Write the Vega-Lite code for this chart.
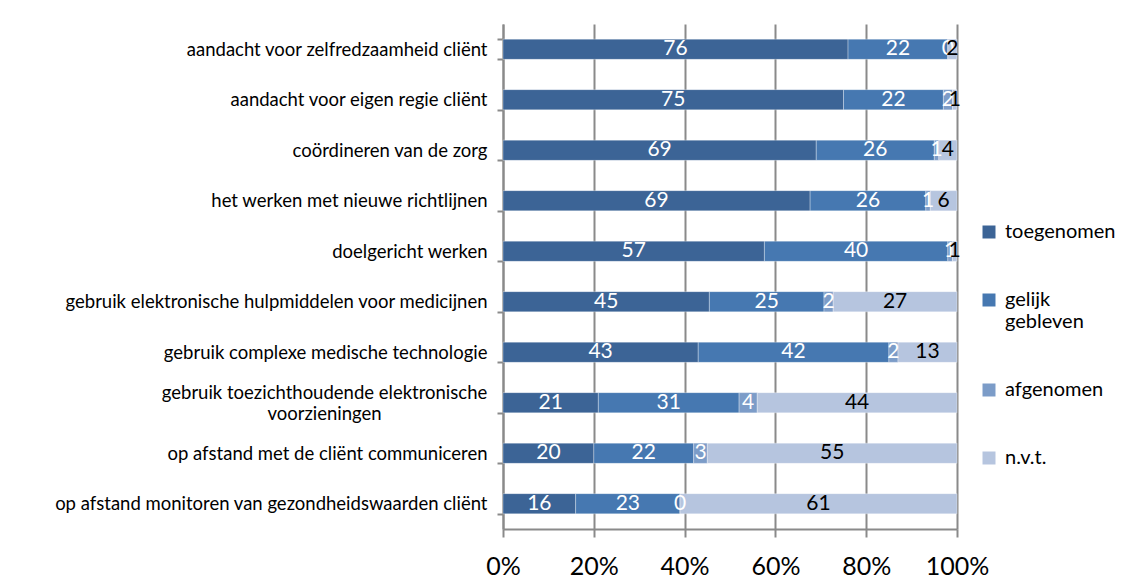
{
  "$schema": "https://vega.github.io/schema/vega-lite/v6.json",
  "width": 454,
  "height": 505,
  "autosize": {"type": "none"},
  "padding": {"left": 503, "top": 24, "right": 165, "bottom": 55},
  "background": "white",
  "config": {
    "font": "Lato",
    "view": {"stroke": null},
    "axis": {"labelColor": "black", "domainColor": "#8a8a8a", "tickColor": "#8a8a8a", "gridColor": "#8a8a8a", "domainWidth": 2, "tickWidth": 2, "gridWidth": 2}
  },
  "data": {
    "values": [
      {"item": "aandacht voor zelfredzaamheid cliënt", "cat": "toegenomen", "v": 76},
      {"item": "aandacht voor zelfredzaamheid cliënt", "cat": "gelijk gebleven", "v": 22},
      {"item": "aandacht voor zelfredzaamheid cliënt", "cat": "afgenomen", "v": 0},
      {"item": "aandacht voor zelfredzaamheid cliënt", "cat": "n.v.t.", "v": 2},
      {"item": "aandacht voor eigen regie cliënt", "cat": "toegenomen", "v": 75},
      {"item": "aandacht voor eigen regie cliënt", "cat": "gelijk gebleven", "v": 22},
      {"item": "aandacht voor eigen regie cliënt", "cat": "afgenomen", "v": 2},
      {"item": "aandacht voor eigen regie cliënt", "cat": "n.v.t.", "v": 1},
      {"item": "coördineren van de zorg", "cat": "toegenomen", "v": 69},
      {"item": "coördineren van de zorg", "cat": "gelijk gebleven", "v": 26},
      {"item": "coördineren van de zorg", "cat": "afgenomen", "v": 1},
      {"item": "coördineren van de zorg", "cat": "n.v.t.", "v": 4},
      {"item": "het werken met nieuwe richtlijnen", "cat": "toegenomen", "v": 69},
      {"item": "het werken met nieuwe richtlijnen", "cat": "gelijk gebleven", "v": 26},
      {"item": "het werken met nieuwe richtlijnen", "cat": "afgenomen", "v": 1},
      {"item": "het werken met nieuwe richtlijnen", "cat": "n.v.t.", "v": 6},
      {"item": "doelgericht werken", "cat": "toegenomen", "v": 57},
      {"item": "doelgericht werken", "cat": "gelijk gebleven", "v": 40},
      {"item": "doelgericht werken", "cat": "afgenomen", "v": 1},
      {"item": "doelgericht werken", "cat": "n.v.t.", "v": 1},
      {"item": "gebruik elektronische hulpmiddelen voor medicijnen", "cat": "toegenomen", "v": 45},
      {"item": "gebruik elektronische hulpmiddelen voor medicijnen", "cat": "gelijk gebleven", "v": 25},
      {"item": "gebruik elektronische hulpmiddelen voor medicijnen", "cat": "afgenomen", "v": 2},
      {"item": "gebruik elektronische hulpmiddelen voor medicijnen", "cat": "n.v.t.", "v": 27},
      {"item": "gebruik complexe medische technologie", "cat": "toegenomen", "v": 43},
      {"item": "gebruik complexe medische technologie", "cat": "gelijk gebleven", "v": 42},
      {"item": "gebruik complexe medische technologie", "cat": "afgenomen", "v": 2},
      {"item": "gebruik complexe medische technologie", "cat": "n.v.t.", "v": 13},
      {"item": "gebruik toezichthoudende elektronische voorzieningen", "cat": "toegenomen", "v": 21},
      {"item": "gebruik toezichthoudende elektronische voorzieningen", "cat": "gelijk gebleven", "v": 31},
      {"item": "gebruik toezichthoudende elektronische voorzieningen", "cat": "afgenomen", "v": 4},
      {"item": "gebruik toezichthoudende elektronische voorzieningen", "cat": "n.v.t.", "v": 44},
      {"item": "op afstand met de cliënt communiceren", "cat": "toegenomen", "v": 20},
      {"item": "op afstand met de cliënt communiceren", "cat": "gelijk gebleven", "v": 22},
      {"item": "op afstand met de cliënt communiceren", "cat": "afgenomen", "v": 3},
      {"item": "op afstand met de cliënt communiceren", "cat": "n.v.t.", "v": 55},
      {"item": "op afstand monitoren van gezondheidswaarden cliënt", "cat": "toegenomen", "v": 16},
      {"item": "op afstand monitoren van gezondheidswaarden cliënt", "cat": "gelijk gebleven", "v": 23},
      {"item": "op afstand monitoren van gezondheidswaarden cliënt", "cat": "afgenomen", "v": 0},
      {"item": "op afstand monitoren van gezondheidswaarden cliënt", "cat": "n.v.t.", "v": 61}
    ]
  },
  "transform": [
    {"calculate": "indexof(['toegenomen','gelijk gebleven','afgenomen','n.v.t.'], datum.cat)", "as": "o"},
    {"stack": "v", "groupby": ["item"], "sort": [{"field": "o", "order": "ascending"}], "offset": "normalize", "as": ["x0", "x1"]},
    {"calculate": "(datum.x0 + datum.x1) / 2", "as": "xm"}
  ],
  "encoding": {
    "y": {
      "field": "item", "type": "nominal", "sort": null, "title": null,
      "scale": {"paddingInner": 0.6, "paddingOuter": 0.3},
      "axis": {
        "tickBand": "extent", "tickSize": 6,
        "labelFontSize": 18.5, "labelLimit": 500,
        "labelPadding": {"condition": {"test": "datum.value == 'gebruik toezichthoudende elektronische voorzieningen'", "value": 173}, "value": 10},
        "labelAlign": {"condition": {"test": "datum.value == 'gebruik toezichthoudende elektronische voorzieningen'", "value": "center"}, "value": "right"},
        "labelOffset": {"condition": {"test": "datum.value == 'gebruik toezichthoudende elektronische voorzieningen'", "value": -10}, "value": 0},
        "labelExpr": "datum.value == 'gebruik toezichthoudende elektronische voorzieningen' ? ['gebruik toezichthoudende elektronische', 'voorzieningen'] : datum.value"
      }
    }
  },
  "layer": [
    {
      "mark": {"type": "bar", "stroke": "white", "strokeWidth": 0.8, "strokeOpacity": 0.4},
      "encoding": {
        "x": {
          "field": "x0", "type": "quantitative", "title": null,
          "scale": {"domain": [0, 1], "nice": false},
          "axis": {"values": [0, 0.2, 0.4, 0.6, 0.8, 1], "format": ".0%", "tickSize": 8, "labelFontSize": 25, "labelPadding": 17, "labelFlush": false, "grid": true}
        },
        "x2": {"field": "x1"},
        "color": {
          "field": "cat", "type": "nominal",
          "scale": {"domain": ["toegenomen", "gelijk gebleven", "afgenomen", "n.v.t."], "range": ["#3C6496", "#4678B1", "#7C9CC8", "#B6C5DF"]},
          "legend": {
            "title": null, "orient": "none", "legendX": 476, "legendY": 198,
            "symbolType": "square", "symbolSize": 169, "symbolStrokeWidth": 0,
            "labelFontSize": 20, "labelColor": "black", "labelOffset": 6, "rowPadding": 48, "padding": 0,
            "labelExpr": "datum.label == 'gelijk gebleven' ? ['gelijk', 'gebleven'] : datum.label"
          }
        }
      }
    },
    {
      "mark": {"type": "text", "fontSize": 21, "baseline": "middle", "align": "center"},
      "encoding": {
        "x": {"field": "xm", "type": "quantitative"},
        "text": {"field": "v", "type": "quantitative"},
        "color": {"condition": {"test": "datum.cat == 'n.v.t.'", "value": "black"}, "value": "white"}
      }
    }
  ]
}
